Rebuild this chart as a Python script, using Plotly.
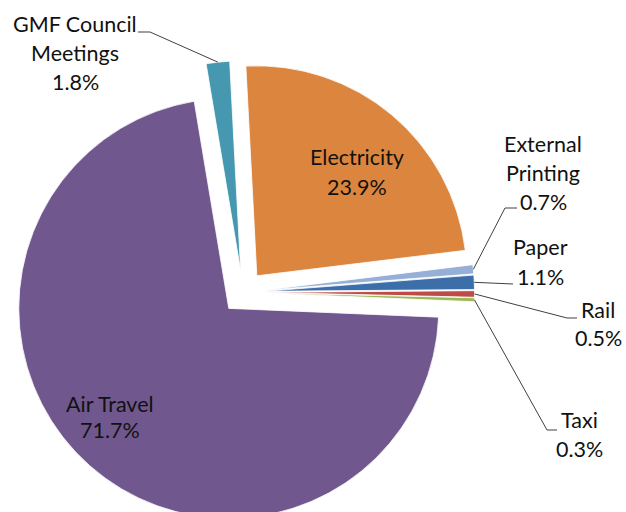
import math
import plotly.graph_objects as go

# ---------------- data ----------------
labels = ["Electricity", "External Printing", "Paper", "Rail", "Taxi",
          "Air Travel", "GMF Council Meetings"]
values = [23.9, 0.7, 1.1, 0.5, 0.3, 71.7, 1.8]
label_lines = [["Electricity"], ["External", "Printing"], ["Paper"], ["Rail"],
               ["Taxi"], ["Air Travel"], ["GMF Council", "Meetings"]]

# ---------------- style / layout constants ----------------
colors = ["#DC853E", "#96AFD7", "#3C6EAA", "#BE4B48", "#98B954", "#70588E", "#4598AF"]
W, H = 626, 524
ROT = -3
PULL = 0.1024
DOM_X = [0.0184, 0.758]
DOM_Y = [0.0, 0.8845]
FONT = "Lato"
FS = 21.5

# label placement (pixels): centre x, first baseline, line spacing, leader (elbow, end)
label_pos = {
    "Electricity": dict(x=357, y=165, dy=30, leader=None),
    "External Printing": dict(x=543, y=152, dy=29, leader=[(505, 208), (517, 208)]),
    "Paper": dict(x=540, y=255, dy=30, leader=[(513, 284)]),
    "Rail": dict(x=598, y=318, dy=28, leader=[(567, 318), (577, 318)]),
    "Taxi": dict(x=579, y=428, dy=29, leader=[(547, 430), (557, 430)]),
    "Air Travel": dict(x=110, y=412, dy=26, leader=None),
    "GMF Council Meetings": dict(x=75, y=32, dy=29, leader=[(150, 32), (138, 32)]),
}

fig = go.Figure(go.Pie(
    labels=labels, values=values, sort=False, direction="clockwise",
    rotation=ROT, pull=PULL, textinfo="none", hoverinfo="label+percent",
    marker=dict(colors=colors, line=dict(color="white", width=0.8)),
    domain=dict(x=DOM_X, y=DOM_Y), showlegend=False,
))

# geometry of the pie as plotly lays it out (margins are zero)
cx = W * (DOM_X[0] + DOM_X[1]) / 2
cy = H * (1 - (DOM_Y[0] + DOM_Y[1]) / 2)
r = min(W * (DOM_X[1] - DOM_X[0]), H * (DOM_Y[1] - DOM_Y[0])) / 2 / (1 + PULL)


def px2paper(x, y):
    return x / W, 1 - y / H


total = sum(values)
cum = 0.0
annotations = []
shapes = []
for lab, v, lines in zip(labels, values, label_lines):
    theta = math.radians(ROT + 360 * (cum + v / 2) / total)
    cum += v
    pos = label_pos[lab]
    texts = lines + [f"{v:.1f}%"]
    for i, t in enumerate(texts):
        base = pos["y"] + i * pos["dy"]
        xx, yy = px2paper(pos["x"], base - 0.39 * FS)
        annotations.append(dict(x=xx, y=yy, xref="paper", yref="paper", text=t,
                                showarrow=False, xanchor="center", yanchor="middle",
                                font=dict(family=FONT, size=FS, color="#111111")))
    if pos["leader"]:
        ax = cx + r * (1 + PULL) * math.sin(theta)
        ay = cy - r * (1 + PULL) * math.cos(theta)
        pts = [(ax, ay)] + pos["leader"]
        pp = [px2paper(x, y) for x, y in pts]
        path = "M " + " L ".join(f"{x:.5f},{y:.5f}" for x, y in pp)
        shapes.append(dict(type="path", path=path, xref="paper", yref="paper",
                           line=dict(color="#404040", width=1)))

fig.update_layout(
    width=W, height=H, margin=dict(l=0, r=0, t=0, b=0),
    paper_bgcolor="white", plot_bgcolor="white",
    annotations=annotations, shapes=shapes,
)

fig.write_html(
    "out.html",
    config={"displayModeBar": False},
    post_script="document.body.style.margin='0';document.body.style.overflow='hidden';"
                "document.documentElement.style.overflow='hidden';",
)
